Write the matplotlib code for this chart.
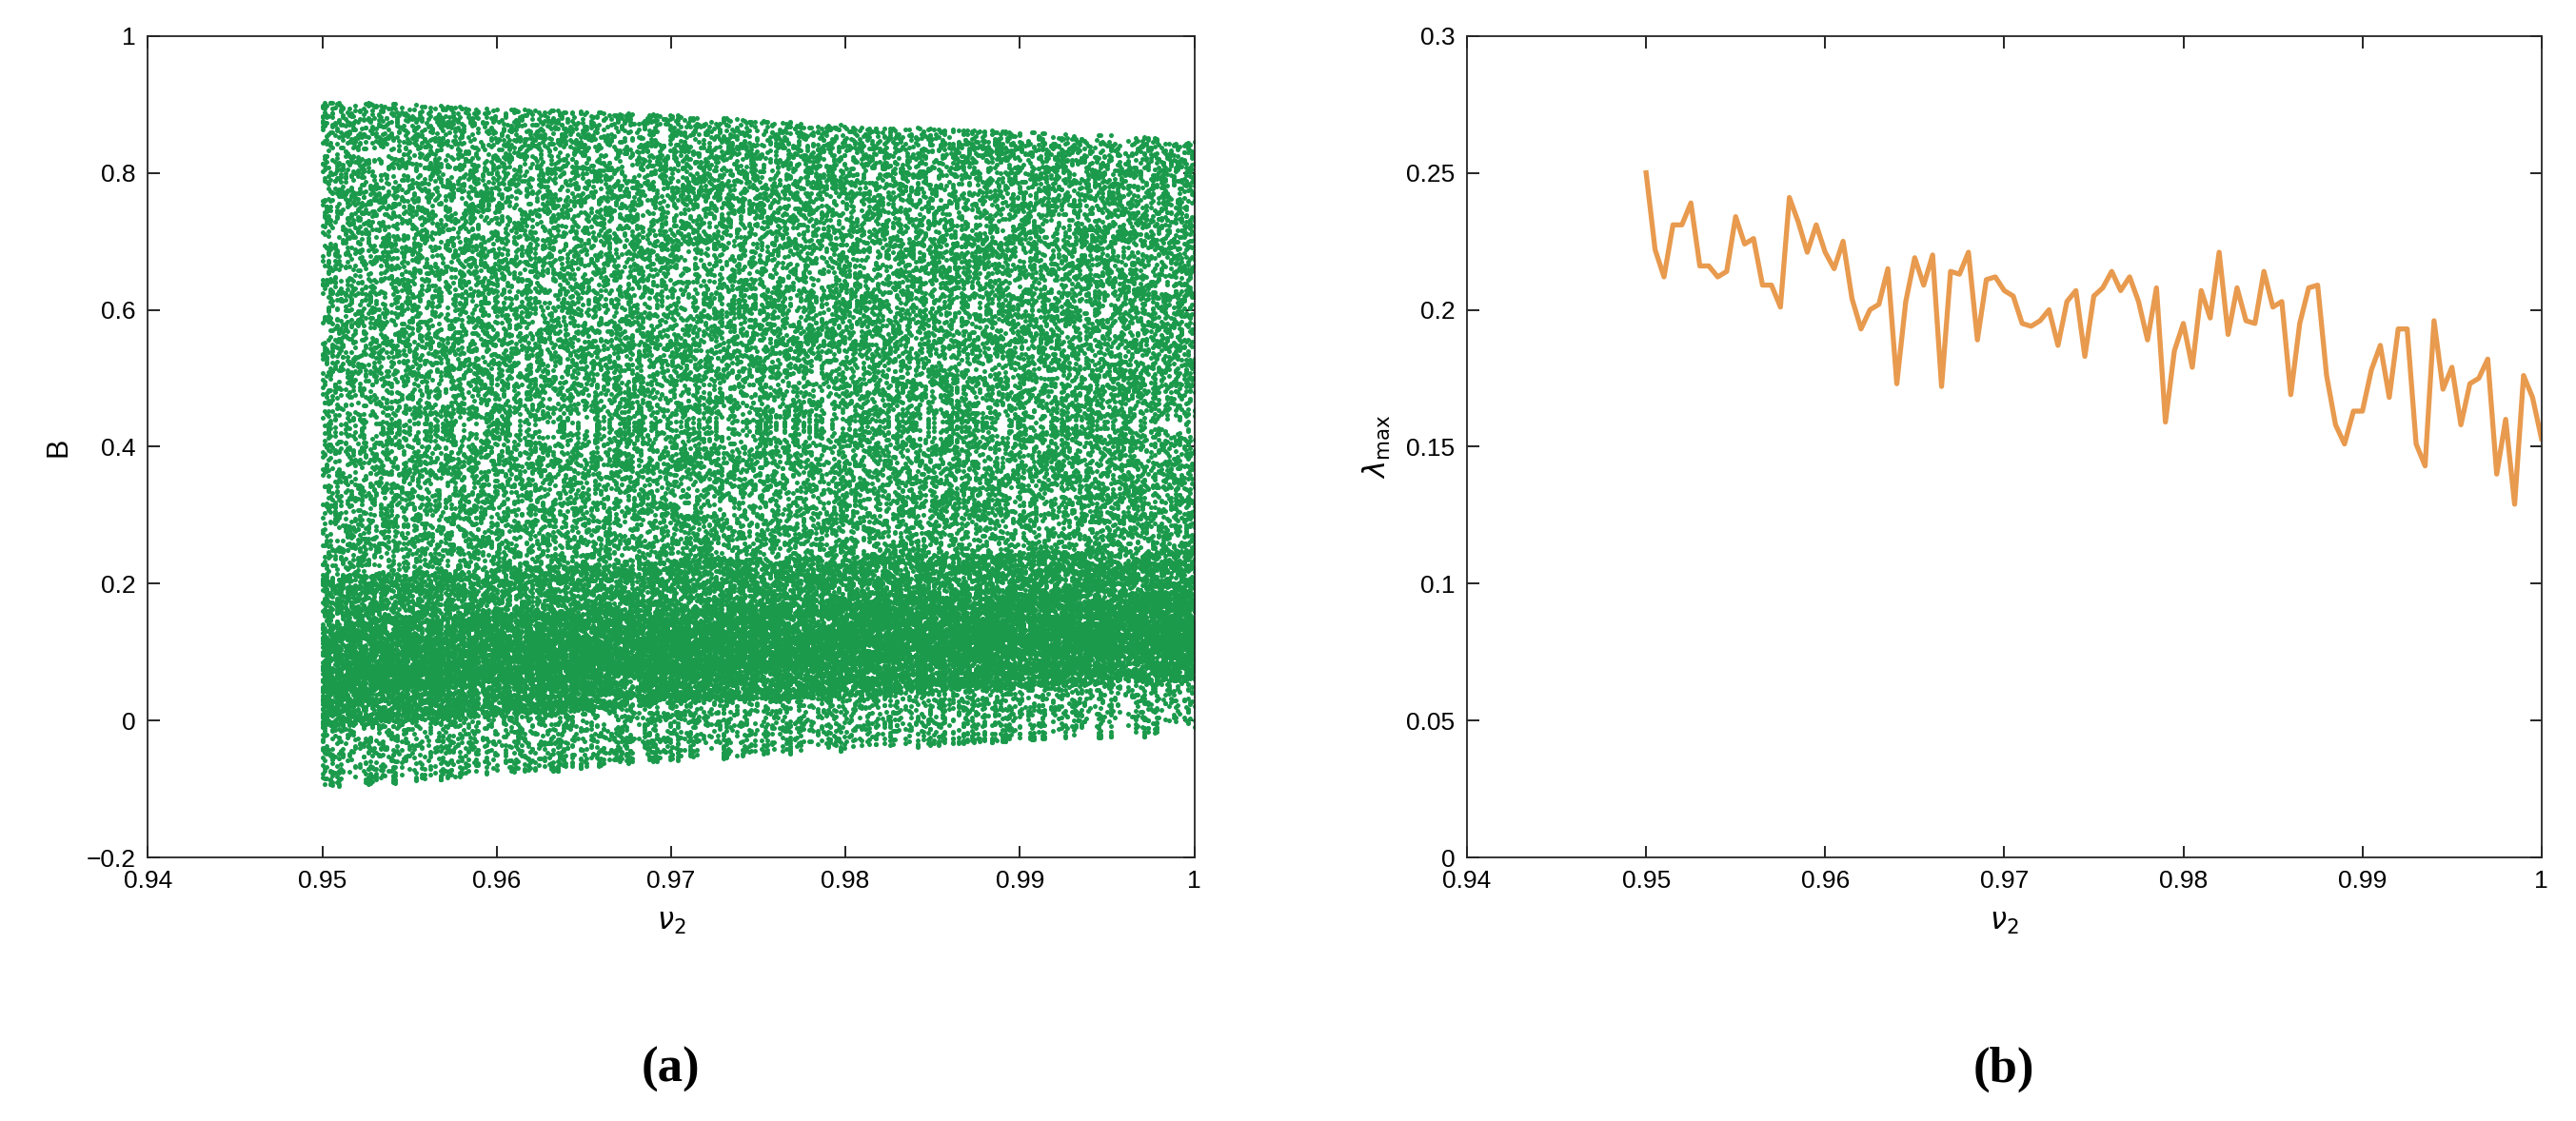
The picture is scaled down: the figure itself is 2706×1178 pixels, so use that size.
import matplotlib
matplotlib.use("Agg")
import matplotlib.pyplot as plt
import numpy as np

# panel (b): largest Lyapunov exponent
nu2_line = np.linspace(0.95, 1.0, 101)
lam_max = [
    0.250, 0.222, 0.212, 0.231, 0.231, 0.239, 0.216, 0.216, 0.212, 0.214,
    0.234, 0.224, 0.226, 0.209, 0.209, 0.201, 0.241, 0.232, 0.221, 0.231,
    0.221, 0.215, 0.225, 0.204, 0.193, 0.200, 0.202, 0.215, 0.173, 0.203,
    0.219, 0.209, 0.220, 0.172, 0.214, 0.213, 0.221, 0.189, 0.211, 0.212,
    0.207, 0.205, 0.195, 0.194, 0.196, 0.200, 0.187, 0.203, 0.207, 0.183,
    0.205, 0.208, 0.214, 0.207, 0.212, 0.203, 0.189, 0.208, 0.159, 0.185,
    0.195, 0.179, 0.207, 0.197, 0.221, 0.191, 0.208, 0.196, 0.195, 0.214,
    0.201, 0.203, 0.169, 0.195, 0.208, 0.209, 0.176, 0.158, 0.151, 0.163,
    0.163, 0.178, 0.187, 0.168, 0.193, 0.193, 0.151, 0.143, 0.196, 0.171,
    0.179, 0.158, 0.173, 0.175, 0.182, 0.140, 0.160, 0.129, 0.176, 0.168,
    0.153,
]

# panel (a): attractor envelope
env_nu = [0.95, 0.96, 0.97, 0.98, 0.99, 1.00]
env_top = [0.905, 0.895, 0.885, 0.870, 0.860, 0.850]
env_bot = [-0.100, -0.080, -0.060, -0.045, -0.030, -0.020]
# how the iterates spread over the envelope (cumulative share -> height share)
share_u = [0.0, 0.05, 0.15, 0.30, 0.42, 0.52, 1.0]
share_h = [0.0, 0.09, 0.14, 0.19, 0.24, 0.31, 1.0]
n_cols = 420
n_iter = 115


def bifurcation_points():
    # iterate a chaotic map per column and place iterates inside the envelope
    xs, ys = [], []
    for k, nu in enumerate(np.linspace(0.95, 1.0, n_cols)):
        top = np.interp(nu, env_nu, env_top)
        bot = np.interp(nu, env_nu, env_bot)
        x = 0.1234 + 0.7 * ((k * 0.61803) % 1.0)
        for _ in range(50):
            x = 4.0 * x * (1.0 - x)
        for _ in range(n_iter):
            x = 4.0 * x * (1.0 - x)
            u = 2.0 / np.pi * np.arcsin(np.sqrt(min(max(x, 0.0), 1.0)))
            frac = np.interp(u, share_u, share_h)
            xs.append(nu)
            ys.append(bot + (top - bot) * frac)
    return np.array(xs), np.array(ys)


plt.rcParams["font.family"] = ["Liberation Sans", "DejaVu Sans"]
fig = plt.figure(figsize=(27.06, 11.78), dpi=100)
ax1 = fig.add_axes([0.0574, 0.235, 0.4062, 0.733])
ax2 = fig.add_axes([0.5695, 0.235, 0.4171, 0.733])

bx, by = bifurcation_points()
ax1.plot(bx, by, "o", color="#1b9a4b", markersize=3.6, markeredgewidth=0)
ax1.set_xlim(0.94, 1.0)
ax1.set_ylim(-0.2, 1.0)
ax1.set_xticks([0.94, 0.95, 0.96, 0.97, 0.98, 0.99, 1.0])
ax1.set_xticklabels(["0.94", "0.95", "0.96", "0.97", "0.98", "0.99", "1"])
ax1.set_yticks([-0.2, 0, 0.2, 0.4, 0.6, 0.8, 1.0])
ax1.set_yticklabels(["\u22120.2", "0", "0.2", "0.4", "0.6", "0.8", "1"])
ax1.set_xlabel(r"$\nu_2$", fontsize=22, labelpad=12)
ax1.set_ylabel("B", fontsize=22, labelpad=10)

ax2.plot(nu2_line, lam_max, color="#e89a4e", linewidth=3.8)
ax2.set_xlim(0.94, 1.0)
ax2.set_ylim(0, 0.3)
ax2.set_xticks([0.94, 0.95, 0.96, 0.97, 0.98, 0.99, 1.0])
ax2.set_xticklabels(["0.94", "0.95", "0.96", "0.97", "0.98", "0.99", "1"])
ax2.set_yticks([0, 0.05, 0.1, 0.15, 0.2, 0.25, 0.3])
ax2.set_yticklabels(["0", "0.05", "0.1", "0.15", "0.2", "0.25", "0.3"])
ax2.set_xlabel(r"$\nu_2$", fontsize=22, labelpad=12)
ax2.set_ylabel(r"$\lambda_{\max}$", fontsize=22, labelpad=10)

for ax in (ax1, ax2):
    ax.tick_params(direction="in", length=9, width=1.2, labelsize=19,
                   top=True, right=True, pad=9)
    for sp in ax.spines.values():
        sp.set_linewidth(1.3)
        sp.set_color("#262626")

fig.text(0.2605, 0.035, "(a)", ha="center", fontsize=38, fontweight="bold",
         family="Liberation Serif")
fig.text(0.778, 0.035, "(b)", ha="center", fontsize=38, fontweight="bold",
         family="Liberation Serif")

fig.savefig("out.png", dpi=100)
